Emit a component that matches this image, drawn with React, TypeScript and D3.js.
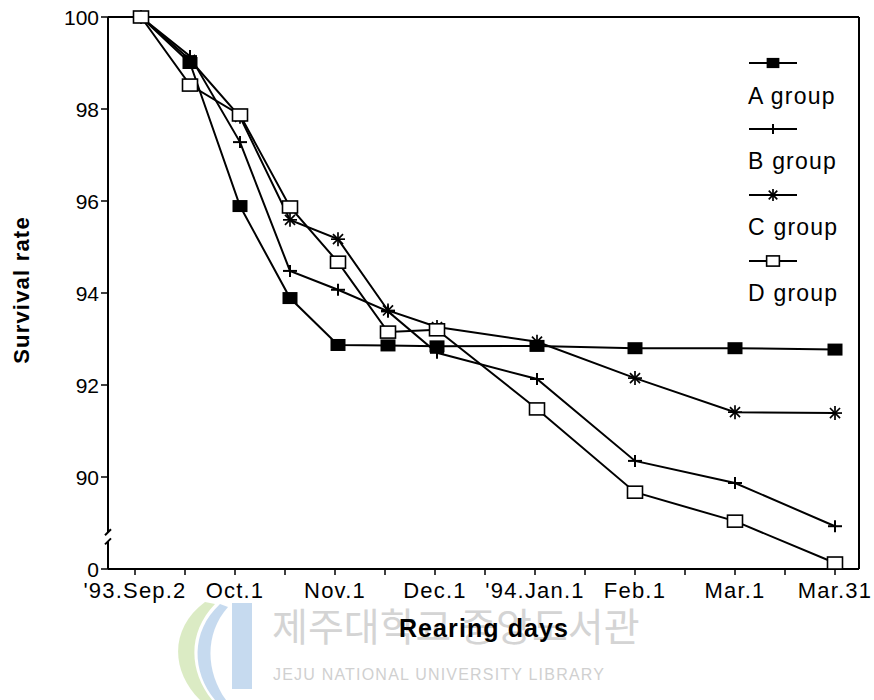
import React from "react";
import * as d3 from "d3";

// ---- data ----
const tickLabels = ["'93.Sep.2", "Oct.1", "Nov.1", "Dec.1", "'94.Jan.1", "Feb.1", "Mar.1", "Mar.31"];
const tickLabelPos = [0, 2, 4, 6, 8, 10, 12, 14]; // half-month index
const halfMonthTicks = d3.range(0, 15);
// sampling dates (half-month index)
const samplePos = [0.12, 1.1, 2.1, 3.1, 4.06, 5.06, 6.04, 8.04, 10, 12, 14];
const groupA = [100, 99.0, 95.89, 93.89, 92.87, 92.86, 92.84, 92.85, 92.8, 92.8, 92.77];
const groupB = [100, 99.15, 97.28, 94.48, 94.07, 93.6, 92.7, 92.13, 90.35, 89.87, 88.93];
const groupC = [100, 99.07, 97.83, 95.59, 95.17, 93.62, 93.26, 92.94, 92.15, 91.41, 91.39];
const groupD = [100, 98.52, 97.87, 95.87, 94.67, 93.15, 93.2, 91.48, 89.67, 89.04, 88.13];
const seriesNames = ["A group", "B group", "C group", "D group"];
const yTicks = [90, 92, 94, 96, 98, 100];
const yBreakValue = 88; // shown as "0"

const FONT = "'Liberation Sans', Arial, Helvetica, sans-serif";

function Marker({ kind, x, y, s = 1 }: { kind: number; x: number; y: number; s?: number }) {
  const w = 15 * s, h = 12 * s, r = 7 * s;
  if (kind === 0) return <rect x={x - w / 2} y={y - h / 2} width={w} height={h} fill="#000" />;
  if (kind === 3)
    return <rect x={x - w / 2} y={y - h / 2} width={w} height={h} fill="#fff" stroke="#000" strokeWidth={1.6} />;
  if (kind === 1)
    return (
      <g stroke="#000" strokeWidth={2}>
        <line x1={x - r} x2={x + r} y1={y} y2={y} />
        <line x1={x} x2={x} y1={y - 6 * s} y2={y + 6 * s} />
      </g>
    );
  // asterisk
  const a = r * 0.72;
  return (
    <g stroke="#000" strokeWidth={1.7}>
      <line x1={x - r} x2={x + r} y1={y} y2={y} />
      <line x1={x - a} x2={x + a} y1={y - a} y2={y + a} />
      <line x1={x - a} x2={x + a} y1={y + a} y2={y - a} />
      <line x1={x} x2={x} y1={y - r} y2={y + r} />
    </g>
  );
}

export default function App() {
  const W = 874, H = 700;
  const left = 108, right = 859, top = 17, bottom = 569;
  const x = d3.scaleLinear().domain([0, 14]).range([135, 835]);
  const y = d3.scaleLinear().domain([yBreakValue, 100]).range([bottom, top]);
  const series = [groupA, groupB, groupC, groupD];
  const line = d3
    .line<number>()
    .x((_, i) => x(samplePos[i]))
    .y((d) => y(d));

  const legendX = 773;
  const legendLineY = [63, 129, 195, 261];
  const legendTextY = [104, 169, 235, 301];

  return (
    <svg
      width={W}
      height={H}
      style={{ position: "absolute", left: 0, top: 0, background: "#fff" }}
      fontFamily={FONT}
    >
      {/* watermark */}
      <g opacity={0.5}>
        <path d="M 205 602 C 170 628 170 670 200 700 L 212 700 C 188 670 188 632 215 604 Z" fill="#b9d98a" />
        <path d="M 220 604 C 190 632 192 672 215 700 L 226 700 C 206 672 204 634 228 607 Z" fill="#8fb7e0" />
        <rect x={232} y={603} width={20} height={86} fill="#8fb7e0" />
      </g>
      <text x={272} y={641} fontSize={39} fill="#d4d4d4" fontFamily="'Noto Sans CJK KR', sans-serif">
        제주대학교 중앙도서관
      </text>
      <text x={273} y={680} fontSize={16} fill="#d0d0d0" letterSpacing={1.2}>
        JEJU NATIONAL UNIVERSITY LIBRARY
      </text>

      {/* frame */}
      <g stroke="#000" strokeWidth={2} fill="none">
        <line x1={left} x2={right} y1={top} y2={top} />
        <line x1={right} x2={right} y1={top} y2={bottom} />
        <line x1={left} x2={right} y1={bottom} y2={bottom} />
        <line x1={left} x2={left} y1={top} y2={y(88.8)} />
        <line x1={left} x2={left} y1={y(88.6)} y2={bottom} />
        <line x1={left - 3} x2={left + 3} y1={y(88.8) + 3} y2={y(88.8) - 3} />
        <line x1={left - 3} x2={left + 3} y1={y(88.6) + 3} y2={y(88.6) - 3} />
      </g>

      {/* y ticks */}
      {[...yTicks, yBreakValue].map((v) => (
        <g key={v}>
          <line x1={left - 7} x2={left} y1={y(v)} y2={y(v)} stroke="#000" strokeWidth={1.5} />
          <text x={left - 9} y={y(v)} dy="0.36em" textAnchor="end" fontSize={21}>
            {v === yBreakValue ? "0" : v}
          </text>
        </g>
      ))}

      {/* x ticks */}
      {halfMonthTicks.map((t) => (
        <line key={t} x1={x(t)} x2={x(t)} y1={bottom} y2={bottom + 6} stroke="#000" strokeWidth={1.5} />
      ))}
      {tickLabels.map((lab, i) => (
        <text key={lab} x={x(tickLabelPos[i])} y={598} textAnchor="middle" fontSize={22} letterSpacing={1.2}>
          {lab}
        </text>
      ))}

      {/* axis titles */}
      <text
        transform="translate(29,290) rotate(-90)"
        textAnchor="middle"
        fontSize={22}
        fontWeight="bold"
        letterSpacing={1.2}
      >
        Survival rate
      </text>
      <text x={484} y={637} textAnchor="middle" fontSize={25} fontWeight="bold" letterSpacing={1.1}>
        Rearing days
      </text>

      {/* lines */}
      {series.map((s, k) => (
        <path key={k} d={line(s) || ""} fill="none" stroke="#000" strokeWidth={2} />
      ))}
      {series.map((s, k) =>
        s.map((v, i) => <Marker key={`${k}-${i}`} kind={k} x={x(samplePos[i])} y={y(v)} />)
      )}

      {/* legend */}
      {seriesNames.map((name, k) => (
        <g key={name}>
          <line x1={legendX - 24} x2={legendX + 24} y1={legendLineY[k]} y2={legendLineY[k]} stroke="#000" strokeWidth={2} />
          <Marker kind={k} x={legendX} y={legendLineY[k]} s={0.85} />
          <text x={748} y={legendTextY[k]} fontSize={23} letterSpacing={1.2}>
            {name}
          </text>
        </g>
      ))}
    </svg>
  );
}
